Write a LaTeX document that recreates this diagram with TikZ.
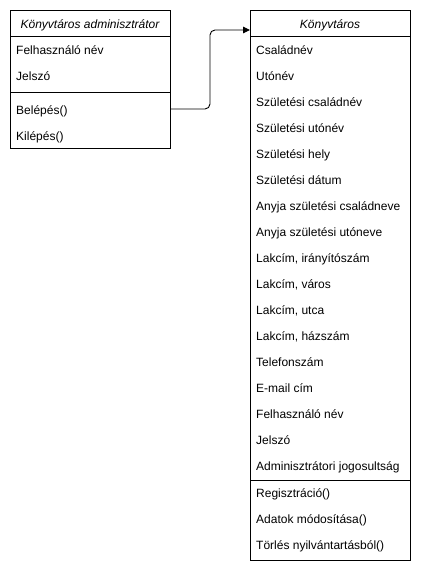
\documentclass[tikz,border=0pt]{standalone}
\usepackage{fontspec}
\setmainfont{Liberation Sans}
\usetikzlibrary{arrows.meta}
\begin{document}
\begin{tikzpicture}[x=1pt,y=-1pt,
  box/.style={draw, line width=0.9pt, inner sep=0pt, anchor=north west, minimum width=160pt},
  sep/.style={line width=0.9pt},
  row/.style={anchor=base west, inner sep=0pt, font=\fontsize{12pt}{14pt}\selectfont},
  title/.style={anchor=base, inner sep=0pt, font=\fontsize{12pt}{14pt}\selectfont\itshape},
  conn/.style={line width=0.9pt, rounded corners=5pt, -{Stealth[length=7pt,width=6.5pt,inset=0pt]}}]
\useasboundingbox (0,0) rectangle (422,572);
% left class
\node[box, minimum height=138pt] (adm) at (10,10) {};
\draw[sep] ([yshift=-26pt]adm.north west) -- ([yshift=-26pt]adm.north east);
\draw[sep] ([yshift=-82pt]adm.north west) -- ([yshift=-82pt]adm.north east);
\node[title] (admt) at (90,28.5) {Könyvtáros adminisztrátor};
\node[row] (a1) at (16,54.5) {Felhasználó név};
\node[row] (a2) at (16,80.5) {Jelszó};
\node[row] (m1) at (16,114.5) {Belépés()};
\node[row] (m2) at (16,140.5) {Kilépés()};
% right class
\node[box, minimum height=550pt] (kt) at (250,10) {};
\draw[sep] ([yshift=-26pt]kt.north west) -- ([yshift=-26pt]kt.north east);
\draw[sep] ([yshift=-470pt]kt.north west) -- ([yshift=-470pt]kt.north east);
\node[title] (ktt) at (330,28.5) {Könyvtáros};
\foreach \t [count=\i from 0] in {Családnév,Utónév,Születési családnév,Születési utónév,Születési hely,Születési dátum,Anyja születési családneve,Anyja születési utóneve,{Lakcím, irányítószám},{Lakcím, város},{Lakcím, utca},{Lakcím, házszám},Telefonszám,E-mail cím,Felhasználó név,Jelszó,Adminisztrátori jogosultság}{
  \node[row] (k\i) at (256,{54.5+26*\i}) {\t};
}
\node[row] (r1) at (256,497) {Regisztráció()};
\node[row] (r2) at (256,523.5) {Adatok módosítása()};
\node[row] (r3) at (256,549.5) {Törlés nyilvántartásból()};
% connector
\coordinate (bend) at (210,30);
\coordinate (start) at (170,109);
\draw[conn] (adm.east |- start) -| (bend) -- (kt.west |- bend);
\end{tikzpicture}
\end{document}
